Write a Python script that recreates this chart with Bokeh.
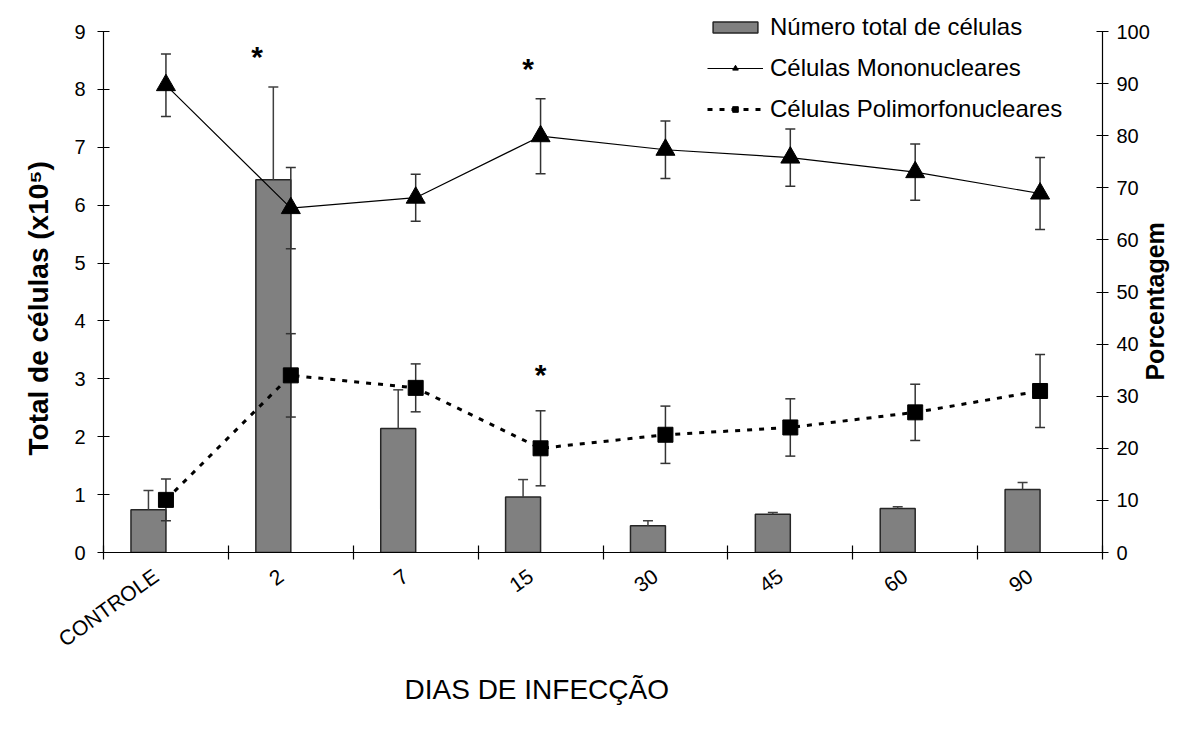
import math
from bokeh.plotting import figure
from bokeh.models import (Range1d, LinearAxis, FixedTicker, ColumnDataSource, Legend,
                          LegendItem, Title)
from bokeh.transform import dodge
from bokeh.core.properties import value
from bokeh.embed import file_html
from bokeh.resources import INLINE

# ---------------- data ----------------
cats = ["CONTROLE", "2", "7", "15", "30", "45", "60", "90"]
total = [0.74, 6.44, 2.14, 0.96, 0.46, 0.66, 0.76, 1.09]
total_err = [0.33, 1.60, 0.67, 0.30, 0.09, 0.03, 0.03, 0.12]
mono = [89.7, 66.1, 68.1, 79.9, 77.3, 75.8, 73.0, 68.9]
mono_err = [6.0, 7.8, 4.5, 7.2, 5.5, 5.5, 5.4, 6.9]
pmn = [10.1, 34.0, 31.6, 20.0, 22.6, 24.0, 26.9, 31.0]
pmn_err = [4.0, 8.0, 4.6, 7.2, 5.5, 5.5, 5.4, 7.0]

left_max = 9
right_max = 100
left_ticks = list(range(0, left_max + 1))
right_ticks = list(range(0, right_max + 1, 10))

star_cats = ["2", "15", "15"]
star_dx = [-0.27, -0.10, 0.0]
star_y = [95.6, 93.3, 34.5]

FONT = "Liberation Sans"

# ---------------- layout constants (pixels) ----------------
W, H = 1186, 715
F_LEFT, F_RIGHT, F_TOP, F_BOTTOM = 103, 1105, 4, 552
AXIS_TOP = 31                       # where the value axes end (top tick)
stretch = (F_BOTTOM - F_TOP) / (F_BOTTOM - AXIS_TOP)
RIGHT_TITLE_START = 33.0            # % level where the rotated right title begins

# category slots on a numeric axis: slot i spans [i, i+1], centre i+0.5
ncat = len(cats)
centres = [i + 0.5 for i in range(ncat)]
pos = dict(zip(cats, centres))

# ---------------- figure ----------------
p = figure(width=W, height=H, x_range=Range1d(0, ncat), y_range=Range1d(0, left_max * stretch),
           output_backend="svg", toolbar_location=None,
           x_axis_type=None, y_axis_type=None,
           min_border_left=F_LEFT, min_border_right=W - F_RIGHT,
           min_border_top=F_TOP, min_border_bottom=H - F_BOTTOM)
p.outline_line_color = None
p.background_fill_color = "white"
p.border_fill_color = "white"
p.extra_y_ranges = {"pct": Range1d(0, right_max * stretch)}


def style_axis(ax, size="20px"):
    ax.axis_line_color = "black"
    ax.axis_line_width = 1.2
    ax.major_tick_line_color = "black"
    ax.major_tick_line_width = 1.2
    ax.major_tick_in = 6
    ax.major_tick_out = 6
    ax.minor_tick_line_color = None
    ax.major_label_text_font = FONT
    ax.major_label_text_font_size = size
    ax.major_label_text_color = "black"


yl = LinearAxis(ticker=FixedTicker(ticks=left_ticks), bounds=(0, left_max))
style_axis(yl)
yl.major_label_standoff = 12
p.add_layout(yl, "left")

# left axis title (as a side title so that it can be placed like the reference)
lt = Title(text="Total de células (x10⁵)", align="left", offset=97, standoff=36,
           text_font=FONT, text_font_size="28px", text_font_style="bold", text_color="black")
p.add_layout(lt, "left")

yr = LinearAxis(y_range_name="pct", ticker=FixedTicker(ticks=right_ticks), bounds=(0, right_max))
style_axis(yr)
yr.major_label_standoff = 8
p.add_layout(yr, "right")

# right axis title, drawn as a single rotated label of an otherwise invisible axis
yr2 = LinearAxis(y_range_name="pct", ticker=FixedTicker(ticks=[RIGHT_TITLE_START]),
                 major_label_overrides={RIGHT_TITLE_START: "Porcentagem"})
yr2.axis_line_color = None
yr2.major_tick_line_color = None
yr2.major_tick_in = 0
yr2.major_tick_out = 0
yr2.minor_tick_line_color = None
yr2.major_label_orientation = math.pi / 2
yr2.major_label_standoff = 3
yr2.major_label_text_font = FONT
yr2.major_label_text_font_size = "25px"
yr2.major_label_text_font_style = "bold"
yr2.major_label_text_color = "black"
p.add_layout(yr2, "right")

# boundary tick marks (no labels)
xb = LinearAxis(ticker=FixedTicker(ticks=list(range(ncat + 1))),
                major_label_overrides={i: "" for i in range(ncat + 1)})
style_axis(xb)
xb.major_label_text_font_size = "1px"
xb.major_tick_in = 7
xb.major_tick_out = 7
xb.major_label_standoff = 0
p.add_layout(xb, "below")

# category labels (no tick marks), anchored slightly left of slot centre like Excel
xc = LinearAxis(ticker=FixedTicker(ticks=[c - 0.08 for c in centres]),
                major_label_overrides={c - 0.08: name for c, name in zip(centres, cats)})
style_axis(xc, "21px")
xc.axis_line_color = None
xc.major_tick_line_color = None
xc.major_tick_in = 0
xc.major_tick_out = 0
xc.major_label_orientation = 0.62
xc.major_label_standoff = 14
p.add_layout(xc, "below")

# x-axis title, shifted left like the reference
xt = Title(text="DIAS DE INFECÇÃO", align="left", offset=301, standoff=16,
           text_font=FONT, text_font_size="28px", text_font_style="normal",
           text_color="black")
p.add_layout(xt, "below")

# ---------------- data sources ----------------
src = ColumnDataSource(dict(
    x=[pos[c] for c in cats],
    total=total,
    total_hi=[t + e for t, e in zip(total, total_err)],
    mono=mono,
    mono_lo=[m - e for m, e in zip(mono, mono_err)],
    mono_hi=[m + e for m, e in zip(mono, mono_err)],
    pmn=pmn,
    pmn_lo=[m - e for m, e in zip(pmn, pmn_err)],
    pmn_hi=[m + e for m, e in zip(pmn, pmn_err)],
))

BAR_OFF = -0.14
CAP = 0.04

bars = p.vbar(x=dodge("x", BAR_OFF), top="total", bottom=0, width=0.28, source=src,
              fill_color="#808080", line_color="#262626", line_width=1.5)
p.segment(x0=dodge("x", BAR_OFF), x1=dodge("x", BAR_OFF), y0="total", y1="total_hi",
          source=src, line_color="#404040", line_width=1.5)
p.segment(x0=dodge("x", BAR_OFF - CAP), x1=dodge("x", BAR_OFF + CAP),
          y0="total_hi", y1="total_hi", source=src, line_color="#404040", line_width=1.5)

# error bars for percentage series
for lo, hi in (("mono_lo", "mono_hi"), ("pmn_lo", "pmn_hi")):
    p.segment(x0="x", x1="x", y0=lo, y1=hi, y_range_name="pct",
              source=src, line_color="#333333", line_width=1.5)
    for yy in (lo, hi):
        p.segment(x0=dodge("x", -CAP), x1=dodge("x", CAP), y0=yy, y1=yy,
                  y_range_name="pct", source=src, line_color="#333333", line_width=1.5)

mono_line = p.line(x="x", y="mono", y_range_name="pct", source=src,
                   line_color="black", line_width=1.2)
mono_mk = p.scatter(x="x", y="mono", y_range_name="pct", source=src,
                    marker="triangle", size=19, fill_color="black", line_color="black")

pmn_line = p.line(x="x", y="pmn", y_range_name="pct", source=src,
                  line_color="black", line_width=3, line_dash="5 7")
pmn_mk = p.scatter(x="x", y="pmn", y_range_name="pct", source=src,
                   marker="square", size=15, fill_color="black", line_color="black")

# significance stars
star_src = ColumnDataSource(dict(x=[pos[c] + dx for c, dx in zip(star_cats, star_dx)], y=star_y))
p.text(x="x", y="y", text=value("*"), source=star_src, y_range_name="pct",
       text_font=value(FONT), text_font_size=value("30px"), text_font_style="bold",
       text_align="center", text_baseline="alphabetic", y_offset=2, text_color="black")

legend = Legend(items=[
    LegendItem(label="Número total de células", renderers=[bars]),
    LegendItem(label="Células Mononucleares", renderers=[mono_line, mono_mk]),
    LegendItem(label="Células Polimorfonucleares", renderers=[pmn_line, pmn_mk]),
], location=(604, 429))
legend.border_line_color = None
legend.background_fill_alpha = 0
legend.padding = 0
legend.margin = 0
legend.spacing = 13
legend.glyph_width = 56
legend.glyph_height = 14
legend.label_height = 27
legend.label_standoff = 7
legend.label_text_font = FONT
legend.label_text_font_size = "24px"
legend.label_text_color = "black"
p.add_layout(legend)

open("out.html", "w").write(file_html(p, INLINE))
